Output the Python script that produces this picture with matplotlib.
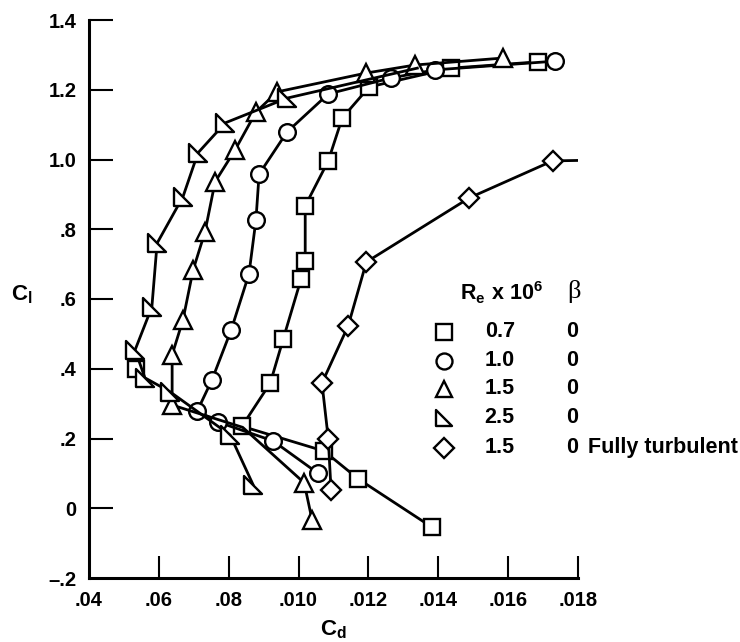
import numpy as np
import matplotlib.pyplot as plt
from matplotlib.path import Path

plt.rcParams['font.family'] = 'Liberation Sans'
plt.rcParams['font.weight'] = 'bold'
plt.rcParams['mathtext.fontset'] = 'custom'
plt.rcParams['mathtext.rm'] = 'Liberation Sans:bold'
plt.rcParams['mathtext.it'] = 'Liberation Sans:bold'
plt.rcParams['mathtext.bf'] = 'Liberation Sans:bold'

# Re = 0.7 million (squares)
sq_cd = [0.01383, 0.01171, 0.01073, 0.00838, 0.00919, 0.00956, 0.01007, 0.01019,
         0.01019, 0.01085, 0.01125, 0.01202, 0.01437, 0.01686]
sq_cl = [-0.055, 0.084, 0.164, 0.235, 0.359, 0.485, 0.657, 0.709,
         0.867, 0.996, 1.119, 1.208, 1.262, 1.280]
sq_bucket_cd = [0.00535]
sq_bucket_cl = [0.400]

# Re = 1.0 million (circles)
ci_cd = [0.01056, 0.00927, 0.00770, 0.00710, 0.00752, 0.00807, 0.00858, 0.00878,
         0.00887, 0.00967, 0.01085, 0.01265, 0.01391, 0.01735]
ci_cl = [0.100, 0.193, 0.247, 0.279, 0.368, 0.511, 0.672, 0.827,
         0.958, 1.079, 1.188, 1.234, 1.257, 1.282]

# Re = 1.5 million (triangles), 3rd vertex sits under a square
tr_cd = [0.01039, 0.01016, 0.00840, 0.00638, 0.00638, 0.00669, 0.00698, 0.00732,
         0.00761, 0.00818, 0.00878, 0.00939, 0.01194, 0.01334, 0.01586]
tr_cl = [-0.035, 0.073, 0.232, 0.296, 0.440, 0.540, 0.683, 0.792,
         0.936, 1.027, 1.136, 1.194, 1.248, 1.271, 1.291]

# Re = 2.5 million (right triangles), last vertex has no symbol
rt_cd = [0.00870, 0.00804, 0.00632, 0.00560, 0.00532, 0.00580, 0.00595, 0.00669,
         0.00712, 0.00790, 0.00967, 0.01340]
rt_cl = [0.067, 0.210, 0.334, 0.374, 0.454, 0.577, 0.760, 0.893,
         1.019, 1.105, 1.176, 1.262]

# Re = 1.5 million, fully turbulent (diamonds)
di_cd = [0.01093, 0.01085, 0.01067, 0.01142, 0.01194, 0.01489, 0.01727, 0.01950]
di_cl = [0.052, 0.200, 0.359, 0.523, 0.706, 0.890, 0.996, 1.000]

legend_re = ['0.7', '1.0', '1.5', '2.5', '1.5']
legend_beta = ['0', '0', '0', '0', '0']

xticks = [0.004, 0.006, 0.008, 0.010, 0.012, 0.014, 0.016, 0.018]
xlabels = ['.04', '.06', '.08', '.010', '.012', '.014', '.016', '.018']
yticks = [-0.2, 0, 0.2, 0.4, 0.6, 0.8, 1.0, 1.2, 1.4]
ylabels = ['\u2013.2', '0', '.2', '.4', '.6', '.8', '1.0', '1.2', '1.4']

right_tri = Path([(-1, 1), (-1, -1), (1, -1), (-1, 1)],
                 [Path.MOVETO, Path.LINETO, Path.LINETO, Path.CLOSEPOLY])

fig = plt.figure(figsize=(7.4, 6.42), dpi=100)
ax = fig.add_axes([89 / 740, 64 / 642, 489 / 740, 558 / 642])

mk = dict(mfc='white', mec='k', mew=1.7)
kw = dict(color='k', lw=2.0, **mk)
ax.plot(sq_cd, sq_cl, marker='s', ms=11.5, **kw)
ax.plot(sq_bucket_cd, sq_bucket_cl, ls='none', marker='s', ms=11.5, **mk)
ax.plot(ci_cd, ci_cl, marker='o', ms=12, **kw)
ax.plot(tr_cd, tr_cl, marker='^', ms=12.5, markevery=[i for i in range(len(tr_cd)) if i != 2], **kw)
ax.plot(rt_cd, rt_cl, marker=right_tri, ms=12.5, markevery=list(range(len(rt_cd) - 1)), **kw)
ax.plot(di_cd, di_cl, marker='D', ms=10.5, **kw)

ax.set_xlim(0.004, 0.018)
ax.set_ylim(-0.2, 1.4)
ax.set_xticks(xticks)
ax.set_xticklabels(xlabels)
ax.set_yticks(yticks)
ax.set_yticklabels(ylabels)
ax.tick_params(axis='x', direction='in', length=16, width=1.5, labelsize=14.5, pad=9)
ax.tick_params(axis='y', direction='in', length=17, width=1.5, labelsize=14.5, pad=9)
ax.xaxis.get_major_ticks()[0].tick1line.set_visible(False)
ax.yaxis.get_major_ticks()[0].tick1line.set_visible(False)
for s in ['top', 'right']:
    ax.spines[s].set_visible(False)
for s in ['left', 'bottom']:
    ax.spines[s].set_linewidth(2.2)

fig.text(22 / 740, 1 - 295 / 642, r'$\mathrm{C_l}$', fontsize=16, ha='center', va='center')
fig.text(333 / 740, 1 - 630 / 642, r'$\mathrm{C_d}$', fontsize=16, ha='center', va='center')

# symbol key
ax.text(0.759, 0.511, r'$\mathrm{R_e\ x\ 10^6}$', transform=ax.transAxes, fontsize=15.5,
        ha='left', va='center')
ax.text(0.992, 0.513, '\u03b2', transform=ax.transAxes, fontsize=19, ha='center',
        va='center', family='Liberation Serif', weight='normal')
rows = [0.441, 0.389, 0.339, 0.287, 0.233]
symbols = [('s', 11), ('o', 11.5), ('^', 12), (right_tri, 12), ('D', 10)]
for y, (m, size), re, b in zip(rows, symbols, legend_re, legend_beta):
    ax.plot([0.726], [y], transform=ax.transAxes, marker=m, ms=size, ls='none',
            clip_on=False, **mk)
    ax.text(0.840, y, re, transform=ax.transAxes, fontsize=15.5, ha='center', va='center')
    ax.text(0.988, y, b, transform=ax.transAxes, fontsize=15.5, ha='center', va='center')
ax.text(1.020, rows[-1], 'Fully turbulent', transform=ax.transAxes, fontsize=15.5,
        ha='left', va='center')

fig.savefig('out.png', dpi=100)
